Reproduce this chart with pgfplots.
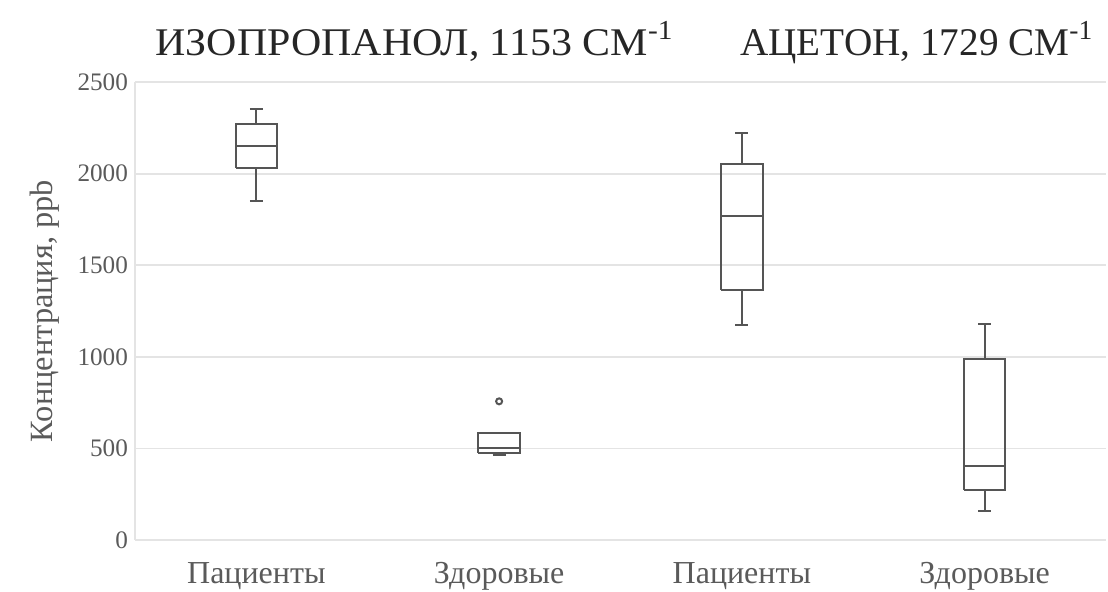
\documentclass[border=0pt]{standalone}
\usepackage{fontspec}
\setmainfont{Liberation Serif}
\usepackage{pgfplots}
\pgfplotsset{compat=1.18}

\definecolor{boxgray}{HTML}{555555}
\definecolor{gridgray}{HTML}{E4E4E4}
\definecolor{txtgray}{HTML}{5A5A5A}

\pgfplotsset{boxline/.style={draw=boxgray, line width=1pt, mark=none, line join=miter, forget plot}}

\begin{document}
\begin{tikzpicture}
\path[use as bounding box] (-67.5pt,-25.5pt) rectangle (486.5pt,270pt);
\begin{axis}[
    scale only axis,
    width=485.5pt, height=229pt,
    xmin=0.5, xmax=4.5,
    ymin=0, ymax=2500,
    ytick={0,500,1000,1500,2000,2500},
    xtick={1,2,3,4},
    xticklabels={Пациенты,Здоровые,Пациенты,Здоровые},
    axis x line*=bottom, axis y line*=left,
    axis line style={draw=gridgray, line width=0.9pt},
    ymajorgrids=true,
    grid style={draw=gridgray, line width=0.9pt},
    major tick length=0pt,
    /pgf/number format/assume math mode=true,
    /pgf/number format/1000 sep={},
    yticklabel style={font=\fontsize{12.6}{14}\selectfont, text=txtgray},
    xticklabel style={font=\fontsize{16}{18}\selectfont, text=txtgray,
      anchor=base, yshift=-21.5pt},
    ylabel={Концентрация, ppb},
    ylabel style={font=\fontsize{16.2}{18}\selectfont, text=txtgray,
      at={(axis description cs:-0.0845,0.5)}, anchor=base},
    clip=false,
  ]
  % box half width 0.085, whisker cap half width 0.027
  % --- Изопропанол, пациенты: 1849 / 2029 / 2152 / 2271 / 2353
  \addplot[boxline] coordinates {(0.915,2029) (1.085,2029) (1.085,2271) (0.915,2271) (0.915,2029)};
  \addplot[boxline] coordinates {(0.915,2152) (1.085,2152)};
  \addplot[boxline] coordinates {(1,2271) (1,2353)};
  \addplot[boxline] coordinates {(0.973,2353) (1.027,2353)};
  \addplot[boxline] coordinates {(1,2029) (1,1849)};
  \addplot[boxline] coordinates {(0.973,1849) (1.027,1849)};
  % --- Изопропанол, здоровые: 466 / 475 / 500 / 584 / 584, выброс 757
  \addplot[boxline] coordinates {(1.915,475) (2.085,475) (2.085,584) (1.915,584) (1.915,475)};
  \addplot[boxline] coordinates {(1.915,500) (2.085,500)};
  \addplot[boxline] coordinates {(2,475) (2,466)};
  \addplot[boxline] coordinates {(1.973,466) (2.027,466)};
  \addplot[boxline, only marks, mark=o, mark size=1.5pt] coordinates {(2,757)};
  % --- Ацетон, пациенты: 1174 / 1366 / 1767 / 2052 / 2220
  \addplot[boxline] coordinates {(2.915,1366) (3.085,1366) (3.085,2052) (2.915,2052) (2.915,1366)};
  \addplot[boxline] coordinates {(2.915,1767) (3.085,1767)};
  \addplot[boxline] coordinates {(3,2052) (3,2220)};
  \addplot[boxline] coordinates {(2.973,2220) (3.027,2220)};
  \addplot[boxline] coordinates {(3,1366) (3,1174)};
  \addplot[boxline] coordinates {(2.973,1174) (3.027,1174)};
  % --- Ацетон, здоровые: 160 / 273 / 406 / 988 / 1179
  \addplot[boxline] coordinates {(3.915,273) (4.085,273) (4.085,988) (3.915,988) (3.915,273)};
  \addplot[boxline] coordinates {(3.915,406) (4.085,406)};
  \addplot[boxline] coordinates {(4,988) (4,1179)};
  \addplot[boxline] coordinates {(3.973,1179) (4.027,1179)};
  \addplot[boxline] coordinates {(4,273) (4,160)};
  \addplot[boxline] coordinates {(3.973,160) (4.027,160)};

  \node[anchor=base west, xshift=6.5pt, yshift=13.5pt, xscale=1.07,
    font=\fontsize{19.6}{22}\selectfont, text=black!85]
    at (rel axis cs:0,1) {ИЗОПРОПАНОЛ, 1153 СМ\textsuperscript{-1}};
  \node[anchor=base west, xshift=299pt, yshift=13.5pt,
    font=\fontsize{19.6}{22}\selectfont, text=black!85]
    at (rel axis cs:0,1) {АЦЕТОН, 1729 СМ\textsuperscript{-1}};
\end{axis}
\end{tikzpicture}
\end{document}
